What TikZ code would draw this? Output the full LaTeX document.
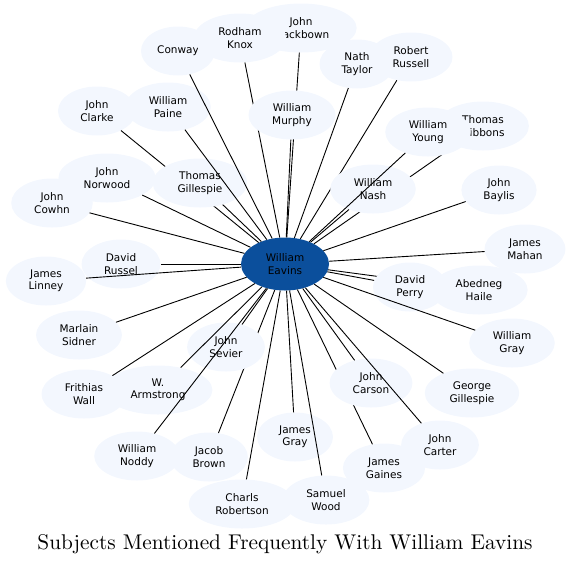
\documentclass[tikz,border=0pt]{standalone}
\usepackage{fontspec}
\newfontfamily\namefont{DejaVu Sans}
\newfontfamily\titlefont{lmroman10-regular}[Extension=.otf]
\usetikzlibrary{shapes.geometric}
\definecolor{namefill}{RGB}{243,247,254}
\definecolor{hubblue}{RGB}{11,79,156}

\begin{document}
\begin{tikzpicture}[
    x=1pt, y=-1pt,
    person/.style={ellipse, fill=namefill, inner xsep=11pt, inner ysep=5pt, minimum width=74pt, minimum height=49pt, align=center, font=\namefont\fontsize{10.5}{12.5}\selectfont},
    hub/.style={person, fill=hubblue, minimum width=88pt, minimum height=53pt},
    link/.style={draw=black, line width=0.9pt}
]
    \useasboundingbox (0,0) rectangle (572,566);

    \node[hub] (eavins) at (285,264) {William\\Eavins};

    % top: some links run under the nodes set after them
    \node[person] (blackbown) at (301,28) {John\\Blackbown};
    \draw[link] (eavins) -- (blackbown);
    \node[person, inner xsep=2pt] (conway) at (178,51) {Conway};
    \node[person] (knox) at (240,38) {Rodham\\Knox};
    \draw[link] (eavins) -- (knox);
    \node[person] (murphy) at (292,115) {William\\Murphy};
    \draw[link] (eavins) -- (murphy);
    \node[person] (taylor) at (357,64) {Nath\\Taylor};
    \draw[link] (eavins) -- (taylor);
    \node[person] (russell) at (411,57) {Robert\\Russell};
    \draw[link] (eavins) -- (russell);
    \node[person] (gibbons) at (483,126) {Thomas\\Gibbons};
    \draw[link] (eavins) -- (gibbons);
    \node[person] (young) at (428,132) {William\\Young};
    \node[person] (nash) at (373,189) {William\\Nash};
    \draw[link] (eavins) -- (nash);
    \draw[link] (eavins) -- (young);
    \node[person] (baylis) at (499,190) {John\\Baylis};
    \draw[link] (eavins) -- (baylis);

    % left
    \node[person] (clarke) at (97,111) {John\\Clarke};
    \draw[link] (eavins) -- (clarke);
    \node[person] (paine) at (168,107) {William\\Paine};
    \node[person] (norwood) at (107,178) {John\\Norwood};
    \node[person] (tgillespie) at (200,183) {Thomas\\Gillespie};
    \draw[link] (eavins) -- (tgillespie);
    \draw[link] (eavins) -- (conway);
    \draw[link] (eavins) -- (paine);
    \draw[link] (eavins) -- (norwood);
    \node[person] (cowhn) at (52,203) {John\\Cowhn};
    \draw[link] (eavins) -- (cowhn);
    \node[person] (linney) at (46,281) {James\\Linney};
    \node[person] (drussel) at (121,264) {David\\Russel};
    \draw[link] (eavins) -- (drussel);
    \draw[link] (eavins) -- (linney);

    % bottom
    \node[person] (sidner) at (79,335) {Marlain\\Sidner};
    \node[person] (wall) at (84,394) {Frithias\\Wall};
    \node[person] (armstrong) at (158,390) {W.\\Armstrong};
    \node[person] (noddy) at (137,456) {William\\Noddy};
    \node[person] (brown) at (209,457) {Jacob\\Brown};
    \draw[link] (eavins) -- (brown);
    \node[person] (sevier) at (226,347) {John\\Sevier};
    \node[person] (robertson) at (242,504) {Charls\\Robertson};
    \node[person] (jgray) at (295,437) {James\\Gray};
    \node[person] (wood) at (326,500) {Samuel\\Wood};
    \node[person] (gaines) at (384,468) {James\\Gaines};
    \draw[link] (eavins) -- (gaines);
    \node[person] (carson) at (371,383) {John\\Carson};
    \node[person] (carter) at (440,445) {John\\Carter};
    \node[person] (ggillespie) at (472,393) {George\\Gillespie};

    % right
    \node[person] (wgray) at (512,343) {William\\Gray};
    \node[person] (mahan) at (525,249) {James\\Mahan};
    \node[person] (haile) at (479,290) {Abedneg\\Haile};
    \draw[link] (eavins) -- (haile);
    \node[person] (perry) at (410,287) {David\\Perry};

    \foreach \who in {sidner, wall, sevier, armstrong, noddy, robertson, jgray, wood, carson, carter, ggillespie, wgray, mahan, perry}
        \draw[link] (eavins) -- (\who);

    \node[font=\titlefont\fontsize{21.3}{26}\selectfont] (title) at (285,544) {Subjects Mentioned Frequently With William Eavins};
\end{tikzpicture}
\end{document}
